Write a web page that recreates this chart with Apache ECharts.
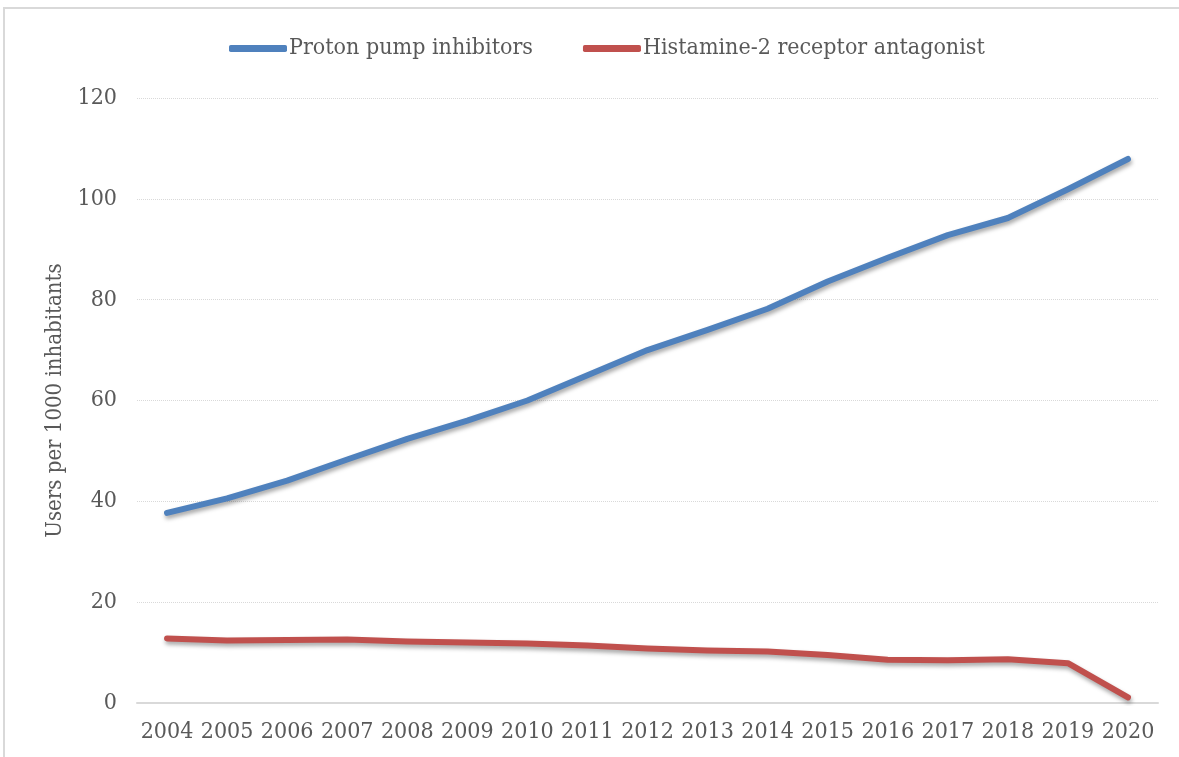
<!DOCTYPE html>
<html>
<head>
<meta charset="utf-8">
<script src="https://cdn.jsdelivr.net/npm/echarts@6/dist/echarts.min.js"></script>
<style>
  html, body { margin: 0; padding: 0; background: #fff; }
  #main { width: 1179px; height: 757px; }
</style>
</head>
<body>
<div id="main"></div>
<script>
// data
var years = ['2004', '2005', '2006', '2007', '2008', '2009', '2010', '2011', '2012',
  '2013', '2014', '2015', '2016', '2017', '2018', '2019', '2020'];
var ppi = [37.7, 40.6, 44.1, 48.3, 52.4, 56.0, 60.0, 65.0, 70.0,
  74.0, 78.2, 83.6, 88.3, 92.8, 96.2, 101.9, 107.9];
var h2ra = [12.8, 12.4, 12.5, 12.6, 12.2, 12.0, 11.8, 11.4, 10.8,
  10.4, 10.2, 9.5, 8.6, 8.5, 8.7, 7.9, 1.1];

var FONT = '"DejaVu Serif Condensed", "DejaVu Serif", serif';
var TXT = '#595959';
var FS = 23;

var chart = echarts.init(document.getElementById('main'));

var shadow = {
  shadowColor: 'rgba(0,0,0,0.35)',
  shadowBlur: 4,
  shadowOffsetX: 1,
  shadowOffsetY: 3
};

var option = {
  backgroundColor: '#fff',
  animation: false,
  graphic: [{
    type: 'rect',
    shape: { x: 4, y: 8, width: 1300, height: 900 },
    style: { fill: 'none', stroke: '#d9d9d9', lineWidth: 2 },
    silent: true
  }],
  legend: {
    top: 32,
    left: 224,
    itemGap: 50,
    itemWidth: 58,
    itemHeight: 7,
    icon: 'roundRect',
    textStyle: { fontFamily: FONT, fontSize: FS, color: TXT, padding: [0, 0, 0, -3] }
  },
  grid: { left: 137, right: 21, top: 98, bottom: 54 },
  xAxis: {
    type: 'category',
    data: years,
    axisLine: { lineStyle: { color: '#d9d9d9', width: 2 } },
    axisTick: { show: false },
    axisLabel: { fontFamily: FONT, fontSize: FS, color: TXT, margin: 18, interval: 0 }
  },
  yAxis: {
    type: 'value',
    min: 0,
    max: 120,
    interval: 20,
    name: 'Users per 1000 inhabitants',
    nameLocation: 'middle',
    nameGap: 70,
    nameTextStyle: { fontFamily: FONT, fontSize: 22, color: TXT },
    axisLine: { show: false },
    axisTick: { show: false },
    axisLabel: { fontFamily: FONT, fontSize: FS, color: TXT, margin: 20 },
    splitLine: { lineStyle: { color: '#d9d9d9', type: 'dotted', width: 1 } }
  },
  series: [
    {
      name: 'Proton pump inhibitors',
      type: 'line',
      data: ppi,
      symbol: 'none',
      color: '#4f81bd',
      lineStyle: Object.assign({ width: 6, color: '#4f81bd', cap: 'round', join: 'round' }, shadow)
    },
    {
      name: 'Histamine-2 receptor antagonist',
      type: 'line',
      data: h2ra,
      symbol: 'none',
      color: '#c0504d',
      lineStyle: Object.assign({ width: 6, color: '#c0504d', cap: 'round', join: 'round' }, shadow)
    }
  ]
};

chart.setOption(option);
</script>
</body>
</html>
